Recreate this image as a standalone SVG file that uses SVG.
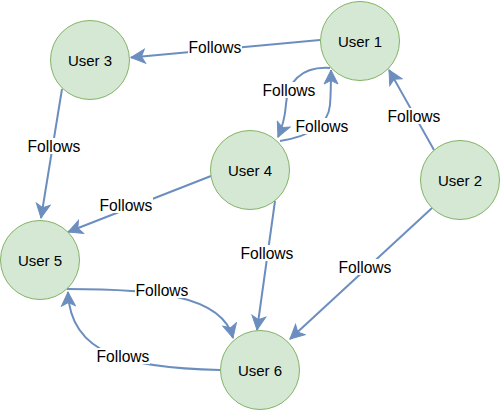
<svg xmlns="http://www.w3.org/2000/svg" width="501" height="411" viewBox="0 0 501 411">
  <style>
    .node circle { fill: #d5e8d4; stroke: #82b366; stroke-width: 1; }
    .node text { font-family: "Liberation Sans", Arial, Helvetica, sans-serif; font-size: 15px; fill: #000; text-anchor: middle; }
    .edge { fill: none; stroke: #6c8ebf; stroke-width: 2; marker-end: url(#arrow); }
    .lbl rect { fill: #fff; }
    .lbl text { font-family: "Liberation Sans", Arial, Helvetica, sans-serif; font-size: 15.6px; fill: #000; text-anchor: middle; }
  </style>
  <defs>
    <marker id="arrow" markerUnits="userSpaceOnUse" markerWidth="16" markerHeight="16" viewBox="-15 -8 16 16" refX="0" refY="0" orient="auto">
      <path d="M0,0 L-14,-7 L-10.5,0 L-14,7 Z" fill="#6c8ebf" stroke="#6c8ebf" stroke-width="1" stroke-linejoin="miter"/>
    </marker>
  </defs>
  <rect width="501" height="411" fill="#fff"/>
  <g id="connectors">
    <path class="edge" d="M320,40 L131,57.5"/>
    <path class="edge" d="M434,150 L389,70"/>
    <path class="edge" d="M432,208 L290,339"/>
    <path class="edge" d="M62,89 L41,218"/>
    <path class="edge" d="M211,176 L68,232"/>
    <path class="edge" d="M275,201 L257,330"/>
    <path class="edge" d="M330,68 C300,66 287,84 286,104 C285,118 282,128 278,137"/>
    <path class="edge" d="M280,141 C305,137 328,127 330,105 C331,92 331,80 331,70"/>
    <path class="edge" d="M67,289 C150,289 222,294 233,338"/>
    <path class="edge" d="M220,370 C130,368 70,356 68,292"/>
    <g class="lbl">
      <rect x="188" y="39" width="54" height="16"/><text x="215" y="52.5">Follows</text>
      <rect x="387" y="108" width="54" height="16"/><text x="414" y="121.5">Follows</text>
      <rect x="338" y="259" width="54" height="16"/><text x="365" y="272.5">Follows</text>
      <rect x="27" y="138" width="54" height="16"/><text x="54" y="151.5">Follows</text>
      <rect x="99" y="197" width="54" height="16"/><text x="126" y="210.5">Follows</text>
      <rect x="240" y="245" width="54" height="16"/><text x="267" y="258.5">Follows</text>
      <rect x="262" y="82" width="54" height="16"/><text x="289" y="95.5">Follows</text>
      <rect x="295" y="118" width="54" height="16"/><text x="322" y="131.5">Follows</text>
      <rect x="135" y="282" width="54" height="16"/><text x="162" y="295.5">Follows</text>
      <rect x="96" y="348" width="54" height="16"/><text x="123" y="361.5">Follows</text>
    </g>
  </g>
  <g id="user1" class="node"><circle cx="360" cy="41" r="39.5"/><text x="360" y="46.5">User 1</text></g>
  <g id="user2" class="node"><circle cx="460" cy="180" r="39.5"/><text x="460" y="185.5">User 2</text></g>
  <g id="user3" class="node"><circle cx="90" cy="60" r="39.5"/><text x="90" y="65.5">User 3</text></g>
  <g id="user4" class="node"><circle cx="250" cy="170" r="39.5"/><text x="250" y="175.5">User 4</text></g>
  <g id="user5" class="node"><circle cx="40" cy="260" r="39.5"/><text x="40" y="265.5">User 5</text></g>
  <g id="user6" class="node"><circle cx="260" cy="370" r="39.5"/><text x="260" y="375.5">User 6</text></g>
</svg>
